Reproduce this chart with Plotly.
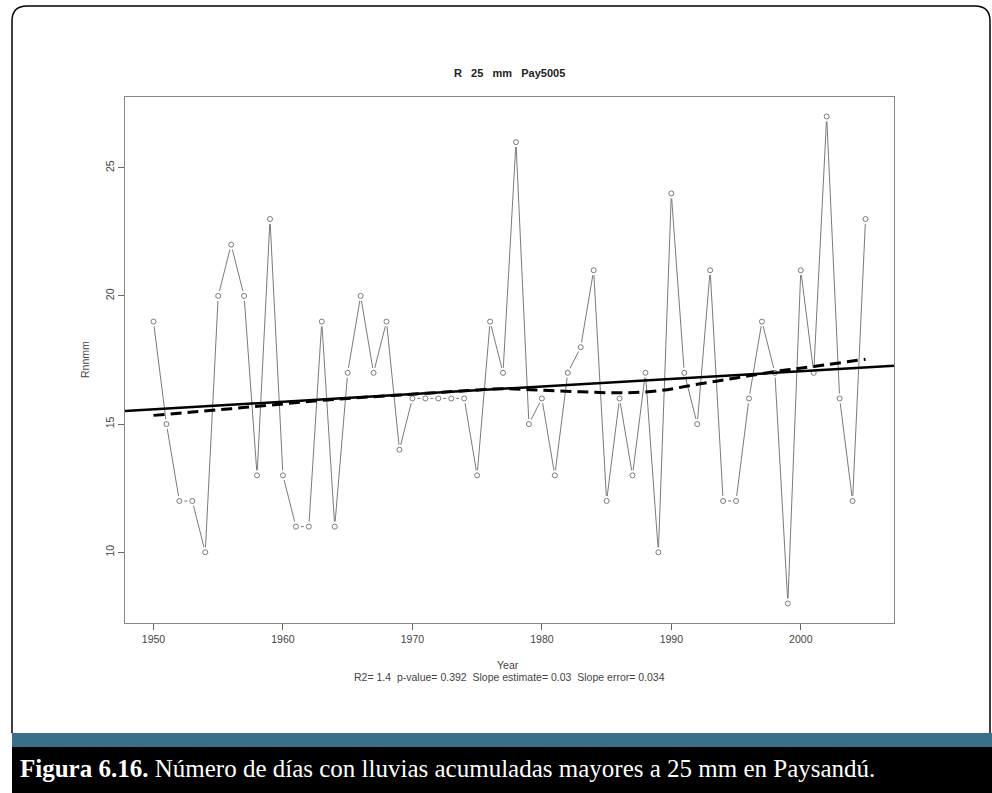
"""R 25 mm Paysandu: annual series with linear trend and smoothed curve."""

import numpy as np
import plotly.graph_objects as go

# --- data ---
years = list(range(1950, 2006))
r25mm = [
    19, 15, 12, 12, 10, 20, 22, 20, 13, 23,   # 1950s
    13, 11, 11, 19, 11, 17, 20, 17, 19, 14,   # 1960s
    16, 16, 16, 16, 16, 13, 19, 17, 26, 15,   # 1970s
    16, 13, 17, 18, 21, 12, 16, 13, 17, 10,   # 1980s
    24, 17, 15, 21, 12, 12, 16, 19, 17, 8,    # 1990s
    21, 17, 27, 16, 12, 23,                   # 2000s
]

# smoothed (dashed) curve, read at a few years
smooth_years = [1950, 1953, 1956, 1959, 1962, 1965, 1968, 1971, 1974, 1977,
                1980, 1983, 1986, 1989, 1992, 1995, 1998, 2001, 2005]
smooth_vals = [15.34, 15.47, 15.60, 15.74, 15.88, 16.00, 16.10, 16.20, 16.30, 16.38,
               16.32, 16.26, 16.22, 16.30, 16.55, 16.80, 17.05, 17.25, 17.53]

x_ticks = [1950, 1960, 1970, 1980, 1990, 2000]
y_ticks = [10, 15, 20, 25]

title_text = "R   25   mm   Pay5005"
stats_text = "R2= 1.4  p-value= 0.392  Slope estimate= 0.03  Slope error= 0.034"
caption = ("<b>Figura 6.16.</b> Número de días con lluvias acumuladas "
           "mayores a 25 mm en Paysandú.")

# --- page geometry (pixels) ---
W, H = 992, 793
L, R_, T, B = 125, 894, 97, 623
PW, PH = R_ - L, B - T


def px(x):
    return (x - L) / PW


def py(y):
    return (B - y) / PH


x_range = [1947.8, 2007.2]
y_range = [7.24, 27.76]

slope, intercept = np.polyfit(years, r25mm, 1)

fig = go.Figure()

GREY = "#7a7a7a"
FONT = "Liberation Sans, Arial, sans-serif"

# series line (type="b" look: line with gaps around points)
fig.add_trace(go.Scatter(
    x=years, y=r25mm, mode="lines",
    line=dict(color=GREY, width=1), showlegend=False, hoverinfo="skip",
))
fig.add_trace(go.Scatter(
    x=years, y=r25mm, mode="markers",
    marker=dict(symbol="circle", size=10, color="white", line=dict(width=0)),
    showlegend=False, hoverinfo="skip",
))
fig.add_trace(go.Scatter(
    x=years, y=r25mm, mode="markers",
    marker=dict(symbol="circle-open", size=5, color=GREY, line=dict(width=1)),
    showlegend=False,
))

# linear trend across the full plot width (abline)
fig.add_trace(go.Scatter(
    x=x_range, y=[intercept + slope * x for x in x_range], mode="lines",
    line=dict(color="black", width=2.5), showlegend=False, hoverinfo="skip",
))

# smoothed curve
fig.add_trace(go.Scatter(
    x=smooth_years, y=smooth_vals, mode="lines",
    line=dict(color="black", width=3, dash="11px,6px", shape="spline"),
    showlegend=False, hoverinfo="skip",
))

annotations = [
    dict(text=f"<b>{title_text}</b>", x=0.5, y=py(73), font=dict(size=11, color="#222")),
    dict(text="Rnnmm", x=px(85), y=py(360), textangle=-90, font=dict(size=10.5, color="#444")),
    dict(text="Year", x=px(508), y=py(665), font=dict(size=10.5, color="#444")),
    dict(text=stats_text, x=px(509), y=py(677), font=dict(size=10.5, color="#444")),
    dict(text=caption, x=px(18), y=py(768), xanchor="left",
         font=dict(size=25, color="white",
                   family="Liberation Serif, DejaVu Serif, serif")),
]
for a in annotations:
    a.setdefault("xanchor", "center")
    a.update(xref="paper", yref="paper", yanchor="middle", showarrow=False)
    a["font"].setdefault("family", FONT)

# outer frame with rounded top corners, teal band and black caption band
r = 15
frame = (f"M {px(12)},{py(733)} L {px(12)},{py(6 + r)} "
         f"Q {px(12)},{py(6)} {px(12 + r)},{py(6)} "
         f"L {px(990 - r)},{py(6)} Q {px(990)},{py(6)} {px(990)},{py(6 + r)} "
         f"L {px(990)},{py(733)}")
shapes = [
    dict(type="path", path=frame, line=dict(color="black", width=1.5)),
    dict(type="rect", x0=px(12), x1=px(W + 2), y0=py(733), y1=py(747),
         fillcolor="#3a6f8a", line=dict(width=0)),
    dict(type="rect", x0=px(12), x1=px(W + 2), y0=py(747), y1=py(H + 2),
         fillcolor="black", line=dict(width=0)),
]
for s in shapes:
    s.update(xref="paper", yref="paper", layer="above")

fig.update_layout(
    width=W, height=H,
    margin=dict(l=L, r=W - R_, t=T, b=H - B, pad=0),
    paper_bgcolor="white", plot_bgcolor="white",
    font=dict(family=FONT, size=10, color="#444"),
    xaxis=dict(
        range=x_range, tickvals=x_ticks, ticks="outside", ticklen=6,
        tickcolor="#666", showline=True, linecolor="#888", linewidth=1,
        mirror=True, showgrid=False, zeroline=False,
        tickfont=dict(size=10.5, color="#444"),
    ),
    yaxis=dict(
        range=y_range, tickvals=y_ticks, ticks="outside", ticklen=6,
        tickcolor="#666", showline=True, linecolor="#888", linewidth=1,
        mirror=True, showgrid=False, zeroline=False, tickangle=-90,
        tickfont=dict(size=10.5, color="#444"),
    ),
    annotations=annotations,
    shapes=shapes,
    showlegend=False,
)

# drop the default body margin so the figure fills the window exactly
fig.write_html(
    "out.html",
    config={"displayModeBar": False},
    post_script="document.body.style.margin='0';document.body.style.overflow='hidden';",
)
